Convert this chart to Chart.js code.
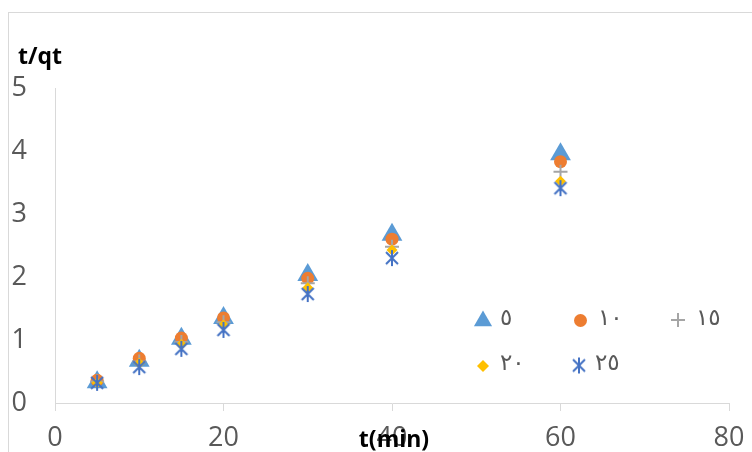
<!DOCTYPE html>
<html><head><meta charset="utf-8">
<script src="https://cdn.jsdelivr.net/npm/chart.js@4.4.1/dist/chart.umd.min.js"></script>
<style>html,body{margin:0;padding:0;background:#fff;}canvas{display:block;}</style>
</head><body>
<canvas id="c" width="752" height="452"></canvas>
<script>
// ---- data ----
const times = [5, 10, 15, 20, 30, 40, 60];
const seriesNames = ['٥', '١٠', '١٥', '٢٠', '٢٥'];
const s5  = [0.33, 0.67, 1.02, 1.35, 2.03, 2.67, 3.95];
const s10 = [0.36, 0.71, 1.03, 1.35, 1.98, 2.60, 3.83];
const s15 = [0.34, 0.66, 0.97, 1.28, 1.90, 2.48, 3.67];
const s20 = [0.32, 0.63, 0.93, 1.24, 1.83, 2.43, 3.52];
const s25 = [0.32, 0.57, 0.86, 1.16, 1.73, 2.30, 3.41];
const xTickValues = [0, 20, 40, 60, 80];
const yTickValues = [0, 1, 2, 3, 4, 5];
const xTitle = 't(min)';
const yTitle = 't/qt';

const TICK_FONT = "'Open Sans', sans-serif";
const TITLE_FONT = "'Open Sans', sans-serif";
const LEG_FONT = "'DejaVu Sans', sans-serif";

function makeAsterisk() {
  const c = document.createElement('canvas');
  c.width = 16; c.height = 18;
  const g = c.getContext('2d');
  g.strokeStyle = '#4472c4'; g.lineWidth = 2; g.lineCap = 'butt';
  g.beginPath();
  g.moveTo(2, 3); g.lineTo(14, 15);
  g.moveTo(14, 3); g.lineTo(2, 15);
  g.moveTo(8, 1); g.lineTo(8, 17);
  g.stroke();
  return c;
}
const asterisk = makeAsterisk();

function pts(vals) { return times.map((t, i) => ({x: t, y: vals[i]})); }

const styles = [
  {data: s5,  pointStyle: 'triangle', color: '#5b9bd5', radius: 12, legRadius: 10.5, borderWidth: 0, order: 5},
  {data: s10, pointStyle: 'circle',   color: '#ed7d31', radius: 6.5, legRadius: 6.5, borderWidth: 0, order: 4},
  {data: s15, pointStyle: 'cross',    color: '#a5a5a5', radius: 7, legRadius: 7, borderWidth: 2, order: 3},
  {data: s20, pointStyle: 'rectRot',  color: '#ffc000', radius: 5.5, legRadius: 6, borderWidth: 0, order: 2},
  {data: s25, pointStyle: asterisk,   color: '#4472c4', radius: 8, legRadius: 8, borderWidth: 0, order: 1}
];

const datasets = styles.map((s, i) => ({
  label: seriesNames[i],
  data: pts(s.data),
  showLine: false,
  pointStyle: s.pointStyle,
  pointRadius: s.radius,
  pointHoverRadius: s.radius,
  pointBackgroundColor: s.color,
  pointBorderColor: s.color,
  pointBorderWidth: s.borderWidth,
  backgroundColor: s.color,
  borderColor: s.color,
  order: s.order
}));

const legendPos = [
  {mx: 483, my: 321, tx: 500, ty: 319},
  {mx: 580.5, my: 320.5, tx: 598, ty: 319},
  {mx: 678, my: 320, tx: 696, ty: 319},
  {mx: 483, my: 366, tx: 500, ty: 364},
  {mx: 579, my: 365.5, tx: 595, ty: 364}
];

const decor = {
  id: 'decor',
  beforeDraw(chart) {
    const ctx = chart.ctx;
    ctx.save();
    ctx.fillStyle = '#fff';
    ctx.fillRect(0, 0, chart.width, chart.height);
    ctx.strokeStyle = '#d9d9d9';
    ctx.lineWidth = 1;
    ctx.strokeRect(8.5, 12.5, 800, 500);
    ctx.restore();
  },
  afterDraw(chart) {
    const ctx = chart.ctx;
    ctx.save();
    ctx.fillStyle = '#000';
    ctx.font = "bold 23px " + TITLE_FONT;
    ctx.textAlign = 'left';
    ctx.textBaseline = 'alphabetic';
    ctx.fillText(yTitle, 18, 64);
    ctx.textAlign = 'center';
    ctx.fillText(xTitle, 394, 447);
    // legend
    styles.forEach((s, i) => {
      const p = legendPos[i];
      ctx.fillStyle = s.color;
      ctx.strokeStyle = s.color;
      ctx.lineWidth = s.borderWidth || 1;
      Chart.helpers.drawPoint(ctx, {pointStyle: s.pointStyle, radius: s.legRadius, rotation: 0, borderWidth: s.borderWidth}, p.mx, p.my);
      ctx.fillStyle = '#595959';
      ctx.font = "23px " + LEG_FONT;
      ctx.textAlign = 'left';
      ctx.textBaseline = 'middle';
      ctx.fillText(seriesNames[i], p.tx, p.ty);
    });
    ctx.restore();
  }
};

new Chart(document.getElementById('c'), {
  type: 'scatter',
  data: {datasets},
  options: {
    responsive: false,
    animation: false,
    layout: {padding: {top: 88, left: 0, right: 23, bottom: 0}},
    plugins: {legend: {display: false}, tooltip: {enabled: false}, title: {display: false}},
    scales: {
      x: {
        type: 'linear', position: 'bottom', min: 0, max: 80,
        afterBuildTicks: s => { s.ticks = xTickValues.map(v => ({value: v})); },
        afterFit: s => { s.height = 49; s.paddingLeft = 0; s.paddingRight = 0; },
        grid: {drawOnChartArea: false, drawTicks: true, tickLength: 8, color: '#d9d9d9'},
        border: {display: true, color: '#d9d9d9', width: 1},
        ticks: {color: '#595959', font: {family: TICK_FONT, size: 27}, padding: 11, maxRotation: 0}
      },
      y: {
        type: 'linear', position: 'left', min: 0, max: 5,
        afterBuildTicks: s => { s.ticks = yTickValues.map(v => ({value: v})); },
        afterFit: s => { s.width = 55; s.paddingTop = 0; s.paddingBottom = 0; },
        grid: {display: false, drawTicks: false},
        border: {display: true, color: '#d9d9d9', width: 1},
        ticks: {color: '#595959', font: {family: TICK_FONT, size: 27}, padding: 28}
      }
    }
  },
  plugins: [decor]
});
</script>
</body></html>
